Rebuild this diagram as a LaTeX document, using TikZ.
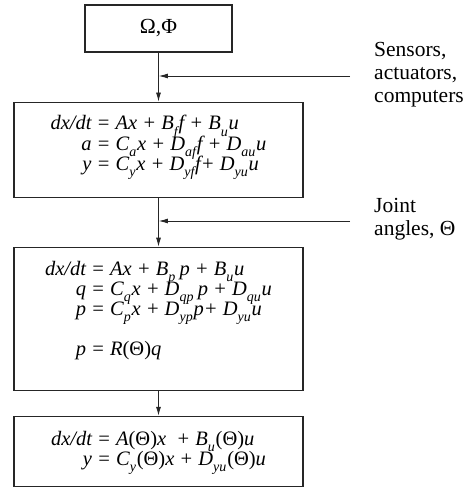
\documentclass[tikz,border=0pt]{standalone}
\usepackage{fontspec}
\setmainfont{Liberation Serif}
\usepackage{tikz}
\usetikzlibrary{arrows.meta,positioning}
\newcommand{\sub}[1]{\raisebox{-0.3em}[0pt][0pt]{\fontsize{14}{14}\selectfont #1}\kern0.8pt}
\newcommand{\up}[1]{{\upshape #1}}

\begin{document}
\begin{tikzpicture}[
    x=1pt, y=-1pt,
    node distance=49pt,
    box/.style={draw=black!85, line width=1.1pt, rectangle, minimum width=289pt, align=center, inner sep=0pt,
                font=\fontsize{20.5}{20}\selectfont\itshape},
    lbl/.style={anchor=west, align=left, inner sep=0pt, font=\fontsize{21.5}{23}\selectfont},
    arrow/.style={-{Latex[length=9pt,width=5pt]}, line width=0.8pt, draw=black!85}
]
    \useasboundingbox (0,0) rectangle (464,487);
    \node[box, minimum width=147pt, minimum height=47pt, font=\fontsize{21.5}{20}\selectfont] (omega) at (158.5,28.5) {Ω,Φ};
    \node[box, minimum height=95pt] (plant) [below=of omega]
        {\begin{tabular}{@{}r@{}l@{}}
            dx/dt & \ = Ax + B\sub{f}f + B\sub{u}u\\
            a & \ = C\sub{a}x + D\sub{af}f + D\sub{au}u\\
            y & \ = C\sub{y}x + D\sub{yf} f+ D\sub{yu}u
          \end{tabular}\\[6pt]};
    \node[box, minimum height=143pt] (joint) [below=of plant]
        {\begin{tabular}{@{}r@{}l@{}}
            dx/dt & \ = Ax + B\sub{p}\,p + B\sub{u}u\\
            q & \ = C\sub{q}x + D\sub{qp}\,p + D\sub{qu}u\\
            p & \ = C\sub{p}x + D\sub{yp} p+ D\sub{yu}u\\[20pt]
            p & \ = R\up{(Θ)}q
          \end{tabular}\\[14pt]};
    \node[box, minimum height=70pt] (lpv) [below=25pt of joint]
        {\begin{tabular}{@{}r@{}l@{}}
            dx/dt & \ = A\up{(Θ)}x \ + B\sub{u}\up{(Θ)}u\\
            y & \ = C\sub{y}\up{(Θ)}x + D\sub{yu}\up{(Θ)}u
          \end{tabular}};

    \coordinate (sens) at (350,76);
    \coordinate (ang) at (350,221);
    \node[lbl] (senslbl) at (374,75) {Sensors,\\actuators,\\computers};
    \node[lbl] (anglbl) at (374,219) {Joint\\angles, Θ};

    \draw[arrow] (omega) -- (plant);
    \draw[arrow] (plant) -- (joint);
    \draw[arrow] (joint) -- (lpv);
    \draw[arrow, shorten >=0.4pt] (sens) -- (sens -| omega.south);
    \draw[arrow, shorten >=0.4pt] (ang) -- (ang -| omega.south);
\end{tikzpicture}
\end{document}
